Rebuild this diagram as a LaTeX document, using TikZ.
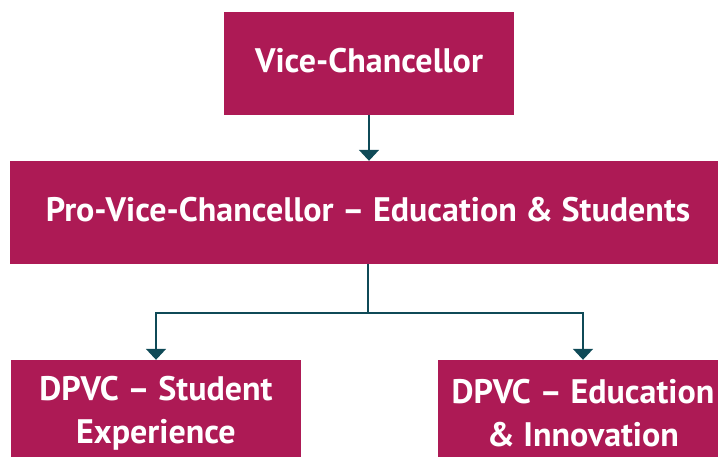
\documentclass[tikz,border=0pt]{standalone}
\usepackage{fontspec}
\setmainfont{PT Sans}
\usetikzlibrary{arrows.meta}
\definecolor{boxred}{HTML}{AD1A55}
\definecolor{linkteal}{HTML}{0F4A57}
\begin{document}
\begin{tikzpicture}[x=1pt,y=-1pt,
  orgbox/.style={fill=boxred,draw=none,text=white,font=\fontsize{34}{43}\selectfont\bfseries,
    align=center,inner sep=0pt,minimum height=103pt},
  oneline/.style={orgbox,text depth=7pt},
  link/.style={draw=linkteal,line width=2pt},
  linkarrow/.style={link,-{Triangle[width=20pt,length=11pt]}}]
  \useasboundingbox (0,0) rectangle (718,456);
  \clip (0,0) rectangle (718,456);
  \node[oneline,minimum width=290pt] (vc) at (369,63.5) {Vice-Chancellor};
  \node[oneline,minimum width=716pt] (pvc) at (368,212.5) {Pro-Vice-Chancellor – Education \& Students};
  \node[orgbox,minimum width=290pt,minimum height=107pt] (dse) at (156,413.5) {DPVC – Student\\Experience};
  \node[orgbox,minimum width=290pt,minimum height=107pt] (dei) at (583,413.5) {DPVC – Education\\\& Innovation};
  \coordinate (split) at (368,313);
  \draw[linkarrow] (vc.south) -- (pvc.north -| vc.south);
  \draw[link] (pvc.south) -- (split);
  \draw[linkarrow] (split) -| (dse.north);
  \draw[linkarrow] (split) -| (dei.north);
\end{tikzpicture}
\end{document}
